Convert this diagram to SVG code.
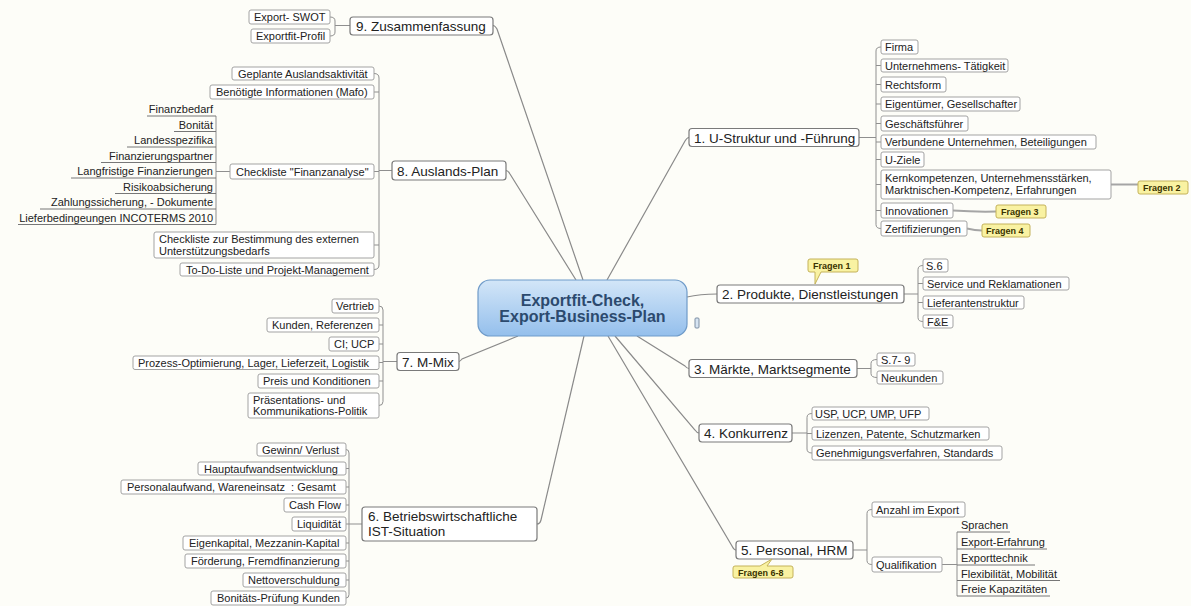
<svg xmlns="http://www.w3.org/2000/svg" width="1191" height="606" viewBox="0 0 1191 606">
<style>
.bg{fill:#fdfdf8}
.mn rect{fill:#fff;stroke:#7a7a7a;stroke-width:1.2}
.lf rect{fill:#fff;stroke:#a3a3a3;stroke-width:1}
text{font-family:"Liberation Sans",Arial,sans-serif;fill:#222}
.mt{font-size:13.5px}
.lt{font-size:11px}
.ce{font-size:16px;font-weight:bold;fill:#2c4a6e}
.fq path{fill:#f9f2a2;stroke:#c4b25a;stroke-width:1}
.ft{font-size:9px;font-weight:bold;fill:#3a3300}
.c{fill:none;stroke:#8a8a8a;stroke-width:1.2}
.b{fill:none;stroke:#8f8f8f;stroke-width:1}
.ul{fill:none;stroke:#777;stroke-width:1}
.fl{fill:none;stroke:#a5a5a5;stroke-width:2}
</style>
<defs>
<linearGradient id="cg" x1="0" y1="0" x2="0" y2="1">
<stop offset="0" stop-color="#d3e6f8"/>
<stop offset="1" stop-color="#94bfec"/>
</linearGradient>
</defs>
<rect class="bg" x="0" y="0" width="1191" height="606"/>

<g id="connectors">
<!-- center to main topics -->
<path class="c" d="M583,280 L497,29 Q495,25.5 493,25.5"/>
<path class="c" d="M576,280 L510,174 Q508,170.5 506,170.5"/>
<path class="c" d="M607,280 L685,141 Q687,137.5 689,137.5"/>
<path class="c" d="M687,297 Q700,294 717,294"/>
<path class="c" d="M637,336 L685,366 Q687,368.5 689,368.5"/>
<path class="c" d="M615,336 L695,430 Q697,433 699,433"/>
<path class="c" d="M608,336 L732,546 Q734,550 736,550"/>
<path class="c" d="M518,336 L462,359 Q460,361.5 459,361.5"/>
<path class="c" d="M584,336 L541,520 Q540,524 537,524"/>
<!-- group 9 -->
<path class="b" d="M350,25.5 H335 M330,17 Q335,17 335,21 V32 Q335,36 330,36"/>
<!-- group 8 -->
<path class="b" d="M392,170.5 H379 M374,73.5 Q379,73.5 379,78 V265 Q379,269.5 374,269.5 M379,92 H374 M379,171.5 H374 M379,245 H374"/>
<path class="b" d="M230,171.5 H216 M216,116 V224.5"/>
<!-- group 7 -->
<path class="b" d="M397,361.5 H383 M379,306 Q383,306 383,310 V401.5 Q383,405.5 379,405.5 M383,325 H379 M383,344 H379 M383,362.5 H379 M383,381 H379"/>
<!-- group 6 -->
<path class="b" d="M362,524 H349 M346,449.5 Q349,449.5 349,453 V594.5 Q349,598 346,598 M349,468.5 H346 M349,487 H346 M349,505 H346 M349,524 H346 M349,543 H346 M349,561 H346 M349,580 H346"/>
<!-- group 1 -->
<path class="b" d="M859,137.5 H876 M881,47 Q876,47 876,51 V224.5 Q876,228.5 881,228.5 M876,65.5 H881 M876,84.5 H881 M876,104 H881 M876,123.5 H881 M876,142 H881 M876,159.5 H881 M876,184.5 H881 M876,210.5 H881"/>
<path class="fl" d="M1111,184.5 H1138 M953,210.5 Q975,212 996,211.5 M967,228.5 Q975,230.5 982,230.5"/>
<!-- group 2 -->
<path class="b" d="M904,294 H918 M923,265.5 Q918,265.5 918,269.5 V317.5 Q918,321.5 923,321.5 M918,283.5 H923 M918,302.5 H923"/>
<!-- group 3 -->
<path class="b" d="M857,368.5 H871 M877,359.5 Q871,359.5 871,363.5 V373.5 Q871,377.5 877,377.5"/>
<!-- group 4 -->
<path class="b" d="M792,433 H807 M812,413.5 Q807,413.5 807,417.5 V449 Q807,453 812,453 M807,433.5 H812"/>
<!-- group 5 -->
<path class="b" d="M853,550 H867 M872,509.5 Q867,509.5 867,513.5 V560.5 Q867,564.5 872,564.5"/>
<path class="b" d="M942,564.5 H957 M957,532 V596"/>
</g>

<g id="center">
<rect x="478" y="280" width="209" height="56" rx="12" fill="url(#cg)" stroke="#6f9bc9" stroke-width="1.2"/>
<text class="ce" x="582.5" y="306" text-anchor="middle">Exportfit-Check,</text>
<text class="ce" x="582.5" y="322" text-anchor="middle">Export-Business-Plan</text>
<rect x="695" y="318" width="4" height="10" rx="1" fill="#d6e4f2" stroke="#7d8ea3" stroke-width="1"/>
</g>

<g id="t9" class="mn"><rect x="350" y="17" width="143" height="18" rx="3"/><text class="mt" x="356" y="31">9. Zusammenfassung</text></g>
<g id="t9a" class="lf"><rect x="249" y="10" width="81" height="14" rx="2"/><text class="lt" x="254" y="21">Export- SWOT</text></g>
<g id="t9b" class="lf"><rect x="251" y="29" width="79" height="14" rx="2"/><text class="lt" x="256" y="40">Exportfit-Profil</text></g>

<g id="t8" class="mn"><rect x="392" y="161" width="114" height="19" rx="3"/><text class="mt" x="397" y="175.5">8. Auslands-Plan</text></g>
<g id="t8a" class="lf"><rect x="232" y="67" width="142" height="13" rx="2"/><text class="lt" x="238" y="77.5">Geplante Auslandsaktivität</text></g>
<g id="t8b" class="lf"><rect x="210" y="85" width="164" height="14" rx="2"/><text class="lt" x="216" y="96">Benötigte Informationen (Mafo)</text></g>
<g id="t8c" class="lf"><rect x="230" y="164" width="144" height="15" rx="2"/><text class="lt" x="236" y="175.5">Checkliste "Finanzanalyse"</text></g>
<g id="t8d" class="lf"><rect x="154" y="232" width="220" height="26" rx="2"/><text class="lt" x="159" y="243">Checkliste zur Bestimmung des externen</text><text class="lt" x="159" y="255">Unterstützungsbedarfs</text></g>
<g id="t8e" class="lf"><rect x="180" y="263" width="194" height="13" rx="2"/><text class="lt" x="186" y="273.5">To-Do-Liste und Projekt-Management</text></g>
<g id="t8c-subs">
<g id="f1"><text class="lt" x="213" y="113" text-anchor="end">Finanzbedarf</text><path class="ul" d="M147,116 H216"/></g>
<g id="f2"><text class="lt" x="213" y="128.5" text-anchor="end">Bonität</text><path class="ul" d="M174,131.5 H216"/></g>
<g id="f3"><text class="lt" x="213" y="144" text-anchor="end">Landesspezifika</text><path class="ul" d="M127,147 H216"/></g>
<g id="f4"><text class="lt" x="213" y="159.5" text-anchor="end">Finanzierungspartner</text><path class="ul" d="M101,162.5 H216"/></g>
<g id="f5"><text class="lt" x="213" y="175" text-anchor="end">Langfristige Finanzierungen</text><path class="ul" d="M71,178 H216"/></g>
<g id="f6"><text class="lt" x="213" y="190.5" text-anchor="end">Risikoabsicherung</text><path class="ul" d="M115,193.5 H216"/></g>
<g id="f7"><text class="lt" x="213" y="206" text-anchor="end">Zahlungssicherung, - Dokumente</text><path class="ul" d="M40,209 H216"/></g>
<g id="f8"><text class="lt" x="213" y="221.5" text-anchor="end">Lieferbedingeungen INCOTERMS 2010</text><path class="ul" d="M18,224.5 H216"/></g>
</g>

<g id="t7" class="mn"><rect x="397" y="352.5" width="62" height="18" rx="3"/><text class="mt" x="402" y="366.5">7. M-Mix</text></g>
<g id="t7a" class="lf"><rect x="332" y="299" width="47" height="14" rx="2"/><text class="lt" x="336" y="310">Vertrieb</text></g>
<g id="t7b" class="lf"><rect x="267" y="318" width="112" height="14" rx="2"/><text class="lt" x="272" y="329">Kunden, Referenzen</text></g>
<g id="t7c" class="lf"><rect x="329" y="337" width="50" height="14" rx="2"/><text class="lt" x="334" y="348">CI; UCP</text></g>
<g id="t7d" class="lf"><rect x="133" y="356" width="246" height="13.5" rx="2"/><text class="lt" x="138" y="366.5">Prozess-Optimierung, Lager, Lieferzeit, Logistik</text></g>
<g id="t7e" class="lf"><rect x="258" y="374" width="121" height="14" rx="2"/><text class="lt" x="263" y="385">Preis und Konditionen</text></g>
<g id="t7f" class="lf"><rect x="248" y="393" width="131" height="25" rx="2"/><text class="lt" x="253" y="403.5">Präsentations- und</text><text class="lt" x="253" y="415">Kommunikations-Politik</text></g>

<g id="t6" class="mn"><rect x="362" y="507" width="175" height="34" rx="3"/><text class="mt" x="368" y="521">6. Betriebswirtschaftliche</text><text class="mt" x="368" y="536">IST-Situation</text></g>
<g id="t6a" class="lf"><rect x="257" y="443" width="89" height="13" rx="2"/><text class="lt" x="262" y="453.5">Gewinn/ Verlust</text></g>
<g id="t6b" class="lf"><rect x="198" y="462" width="148" height="13" rx="2"/><text class="lt" x="204" y="472.5">Hauptaufwandsentwicklung</text></g>
<g id="t6c" class="lf"><rect x="121" y="480" width="225" height="14" rx="2"/><text class="lt" x="127" y="491" style="white-space:pre">Personalaufwand, Wareneinsatz  : Gesamt</text></g>
<g id="t6d" class="lf"><rect x="284" y="498" width="62" height="14" rx="2"/><text class="lt" x="289" y="509">Cash Flow</text></g>
<g id="t6e" class="lf"><rect x="292" y="517" width="54" height="14" rx="2"/><text class="lt" x="297" y="528">Liquidität</text></g>
<g id="t6f" class="lf"><rect x="183" y="536" width="163" height="14" rx="2"/><text class="lt" x="189" y="547">Eigenkapital, Mezzanin-Kapital</text></g>
<g id="t6g" class="lf"><rect x="185" y="554" width="161" height="14" rx="2"/><text class="lt" x="191" y="565">Förderung, Fremdfinanzierung</text></g>
<g id="t6h" class="lf"><rect x="243" y="573" width="103" height="14" rx="2"/><text class="lt" x="248" y="584">Nettoverschuldung</text></g>
<g id="t6i" class="lf"><rect x="211" y="591" width="135" height="14" rx="2"/><text class="lt" x="217" y="602">Bonitäts-Prüfung Kunden</text></g>

<g id="t1" class="mn"><rect x="689" y="128.5" width="170" height="18" rx="3"/><text class="mt" x="694" y="142.5">1. U-Struktur und -Führung</text></g>
<g id="t1a" class="lf"><rect x="881" y="40" width="37" height="14" rx="2"/><text class="lt" x="885" y="51">Firma</text></g>
<g id="t1b" class="lf"><rect x="881" y="59" width="127" height="13" rx="2"/><text class="lt" x="885" y="69.5">Unternehmens- Tätigkeit</text></g>
<g id="t1c" class="lf"><rect x="881" y="77" width="65" height="15" rx="2"/><text class="lt" x="885" y="88.5">Rechtsform</text></g>
<g id="t1d" class="lf"><rect x="881" y="97" width="139" height="14" rx="2"/><text class="lt" x="885" y="108">Eigentümer, Gesellschafter</text></g>
<g id="t1e" class="lf"><rect x="881" y="116" width="87" height="15" rx="2"/><text class="lt" x="885" y="127.5">Geschäftsführer</text></g>
<g id="t1f" class="lf"><rect x="881" y="135" width="215" height="14" rx="2"/><text class="lt" x="885" y="146">Verbundene Unternehmen, Beteiligungen</text></g>
<g id="t1g" class="lf"><rect x="881" y="152" width="43" height="15" rx="2"/><text class="lt" x="885" y="163.5">U-Ziele</text></g>
<g id="t1h" class="lf"><rect x="881" y="170" width="230" height="29" rx="2"/><text class="lt" x="885" y="181.5">Kernkompetenzen, Unternehmensstärken,</text><text class="lt" x="885" y="194">Marktnischen-Kompetenz, Erfahrungen</text></g>
<g id="t1i" class="lf"><rect x="881" y="203" width="72" height="15" rx="2"/><text class="lt" x="885" y="214.5">Innovationen</text></g>
<g id="t1j" class="lf"><rect x="881" y="221" width="86" height="15" rx="2"/><text class="lt" x="885" y="232.5">Zertifizierungen</text></g>
<g id="fq2" class="fq"><path d="M1140,181 H1186 Q1188,181 1188,183 V192 Q1188,194 1186,194 H1140 Q1138,194 1138,192 V183 Q1138,181 1140,181 Z"/><text class="ft" x="1143" y="191">Fragen 2</text></g>
<g id="fq3" class="fq"><path d="M998,205 H1044 Q1046,205 1046,207 V216 Q1046,218 1044,218 H998 Q996,218 996,216 V207 Q996,205 998,205 Z"/><text class="ft" x="1001" y="215">Fragen 3</text></g>
<g id="fq4" class="fq"><path d="M984,224 H1028 Q1030,224 1030,226 V235 Q1030,237 1028,237 H984 Q982,237 982,235 V226 Q982,224 984,224 Z"/><text class="ft" x="986" y="234">Fragen 4</text></g>

<g id="t2" class="mn"><rect x="717" y="285" width="187" height="18" rx="3"/><text class="mt" x="722" y="299">2. Produkte, Dienstleistungen</text></g>
<g id="fq1" class="fq"><path d="M810,259 H856 Q858,259 858,261 V270 Q858,272 856,272 H821 L815,284 L815,272 H810 Q808,272 808,270 V261 Q808,259 810,259 Z"/><text class="ft" x="813" y="269">Fragen 1</text></g>
<g id="t2a" class="lf"><rect x="923" y="259" width="25" height="13" rx="2"/><text class="lt" x="926" y="269.5">S.6</text></g>
<g id="t2b" class="lf"><rect x="923" y="277" width="146" height="13" rx="2"/><text class="lt" x="927" y="287.5">Service und Reklamationen</text></g>
<g id="t2c" class="lf"><rect x="923" y="296" width="101" height="13" rx="2"/><text class="lt" x="927" y="306.5">Lieferantenstruktur</text></g>
<g id="t2d" class="lf"><rect x="923" y="315" width="30" height="13" rx="2"/><text class="lt" x="927" y="325.5">F&amp;E</text></g>

<g id="t3" class="mn"><rect x="689" y="359.5" width="168" height="18" rx="3"/><text class="mt" x="694" y="373.5">3. Märkte, Marktsegmente</text></g>
<g id="t3a" class="lf"><rect x="877" y="353" width="38" height="13" rx="2"/><text class="lt" x="881" y="363.5">S.7- 9</text></g>
<g id="t3b" class="lf"><rect x="877" y="371" width="66" height="13" rx="2"/><text class="lt" x="881" y="381.5">Neukunden</text></g>

<g id="t4" class="mn"><rect x="699" y="424" width="93" height="18" rx="3"/><text class="mt" x="704" y="438">4. Konkurrenz</text></g>
<g id="t4a" class="lf"><rect x="812" y="407" width="117" height="13" rx="2"/><text class="lt" x="815" y="417.5">USP, UCP, UMP, UFP</text></g>
<g id="t4b" class="lf"><rect x="812" y="427" width="177" height="13" rx="2"/><text class="lt" x="816" y="437.5">Lizenzen, Patente, Schutzmarken</text></g>
<g id="t4c" class="lf"><rect x="812" y="446" width="190" height="14" rx="2"/><text class="lt" x="816" y="457">Genehmigungsverfahren, Standards</text></g>

<g id="t5" class="mn"><rect x="736" y="541" width="117" height="18" rx="3"/><text class="mt" x="741" y="555">5. Personal, HRM</text></g>
<g id="fq68" class="fq"><path d="M735,566 H760 L772,559 L767,566 H791 Q793,566 793,568 V576 Q793,578 791,578 H735 Q733,578 733,576 V568 Q733,566 735,566 Z"/><text class="ft" x="738" y="575.5">Fragen 6-8</text></g>
<g id="t5a" class="lf"><rect x="872" y="502" width="93" height="15" rx="2"/><text class="lt" x="876" y="513.5">Anzahl im Export</text></g>
<g id="t5b" class="lf"><rect x="872" y="557" width="70" height="15" rx="2"/><text class="lt" x="876" y="568.5">Qualifikation</text></g>
<g id="t5b-subs">
<g id="q1"><text class="lt" x="961" y="529">Sprachen</text><path class="ul" d="M957,532 H1010"/></g>
<g id="q2"><text class="lt" x="961" y="546">Export-Erfahrung</text><path class="ul" d="M957,549 H1047"/></g>
<g id="q3"><text class="lt" x="961" y="562">Exporttechnik</text><path class="ul" d="M957,565 H1035"/></g>
<g id="q4"><text class="lt" x="961" y="577.5">Flexibilität, Mobilität</text><path class="ul" d="M957,580.5 H1060"/></g>
<g id="q5"><text class="lt" x="961" y="593">Freie Kapazitäten</text><path class="ul" d="M957,596 H1050"/></g>
</g>
</svg>
